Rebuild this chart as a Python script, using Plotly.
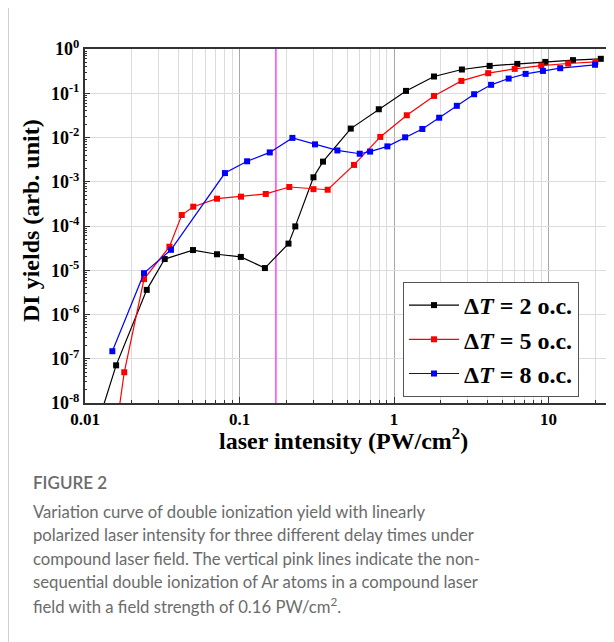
import plotly.graph_objects as go

# ---- data ----
black_x = [0.0125, 0.0159, 0.0251, 0.0328, 0.050, 0.0715, 0.102, 0.146, 0.2075, 0.2296, 0.301, 0.347,
           0.525, 0.797, 1.196, 1.815, 2.75, 4.16, 6.28, 9.53, 14.4, 21.8]
black_y = [4.9e-9, 7.1e-8, 3.6e-6, 1.79e-5, 2.86e-5, 2.3e-5, 2.0e-5, 1.12e-5, 4.0e-5, 9.8e-5, 1.26e-3, 2.85e-3,
           1.59e-2, 4.35e-2, 0.113, 0.239, 0.344, 0.416, 0.46, 0.51, 0.56, 0.60]

red_x = [0.0150, 0.01795, 0.0241, 0.0352, 0.0423, 0.0502, 0.0715, 0.1023, 0.148, 0.210, 0.301, 0.372,
         0.551, 0.815, 1.21, 1.815, 2.73, 4.07, 6.04, 8.98, 13.4, 20.1]
red_y = [5.7e-10, 4.95e-8, 6.3e-6, 3.4e-5, 1.77e-4, 2.73e-4, 4.14e-4, 4.6e-4, 5.3e-4, 7.6e-4, 6.8e-4, 6.6e-4,
         2.4e-3, 1.03e-2, 3.18e-2, 8.7e-2, 0.19, 0.284, 0.356, 0.42, 0.47, 0.51]

blue_x = [0.01503, 0.0241, 0.036, 0.0805, 0.112, 0.157, 0.22, 0.308, 0.43, 0.60, 0.70, 0.906, 1.18,
          1.525, 1.96, 2.55, 3.30, 4.25, 5.52, 7.11, 9.2, 11.9, 20.0]
blue_y = [1.48e-7, 8.6e-6, 2.9e-5, 1.57e-3, 2.9e-3, 4.6e-3, 9.8e-3, 7.0e-3, 5.1e-3, 4.3e-3, 4.8e-3, 6.3e-3,
          1.01e-2, 1.56e-2, 2.8e-2, 5.2e-2, 9.5e-2, 0.155, 0.215, 0.274, 0.32, 0.368, 0.44]

series_names = ["Δ<i>T</i> = 2 o.c.", "Δ<i>T</i> = 5 o.c.", "Δ<i>T</i> = 8 o.c."]
series_colors = ["#000000", "#ff0000", "#0000ff"]

pink_line_x = [0.172, 0.172]
pink_line_y = [1e-8, 1]

x_tickvals = [0.01, 0.1, 1, 10]
x_ticktext = ["0.01", "0.1", "1", "10"]
y_tickvals = [1e-8, 1e-7, 1e-6, 1e-5, 1e-4, 1e-3, 1e-2, 1e-1, 1]
y_ticktext = ["10<sup>-8</sup>", "10<sup>-7</sup>", "10<sup>-6</sup>", "10<sup>-5</sup>", "10<sup>-4</sup>",
              "10<sup>-3</sup>", "10<sup>-2</sup>", "10<sup>-1</sup>", "10<sup>0</sup>"]

x_title = "laser intensity (PW/cm<sup>2</sup>)"
y_title = "DI yields (arb. unit)"

caption_title = "FIGURE 2"
caption_lines = [
    "Variation curve of double ionization yield with linearly",
    "polarized laser intensity for three different delay times under",
    "compound laser field. The vertical pink lines indicate the non-",
    "sequential double ionization of Ar atoms in a compound laser",
    "field with a field strength of 0.16 PW/cm<sup>2</sup>.",
]

x_minor = [m * 10 ** e for e in (-2, -1, 0, 1) for m in range(2, 10)]
y_minor = [m * 10 ** e for e in range(-8, 0) for m in range(2, 10)]

SERIF = "Liberation Serif, Times New Roman, serif"
SANS = "Lato, Open Sans, sans-serif"

fig = go.Figure()

fig.add_trace(go.Scatter(x=pink_line_x, y=pink_line_y, mode="lines",
                         line=dict(color="#ff40ff", width=1.5), showlegend=False, hoverinfo="skip"))

for xs, ys, name, col in zip([black_x, red_x, blue_x], [black_y, red_y, blue_y], series_names, series_colors):
    fig.add_trace(go.Scatter(x=xs, y=ys, mode="lines+markers", name=name,
                             line=dict(color=col, width=1.2),
                             marker=dict(symbol="square", size=6, color=col)))

# the page body has an 8px margin, so the figure is offset by 8px
OFF = 8
W, H = 614 - OFF, 642 - OFF
L, R, T, B = 85 - OFF, 6, 49 - OFF, 239
pw, ph = W - L - R, H - T - B

def px_x(p):  # p = page x coordinate
    return (p - OFF - L) / pw

def px_y(p):  # p = page y coordinate
    return (H - B - (p - OFF)) / ph

fig.update_layout(
    width=W, height=H,
    margin=dict(l=L, r=R, t=T, b=B, autoexpand=False),
    paper_bgcolor="white", plot_bgcolor="white",
    showlegend=True,
    legend=dict(x=px_x(403), y=px_y(282), xanchor="left", yanchor="top",
                bgcolor="white", bordercolor="#555", borderwidth=1,
                font=dict(family=SERIF, size=24, color="black", weight="bold"),
                tracegroupgap=0, itemwidth=50),
    font=dict(family=SERIF, color="black"),
)

fig.update_xaxes(
    type="log", range=[-2, 1.385], automargin=False,
    tickvals=x_tickvals, ticktext=x_ticktext,
    tickfont=dict(family=SERIF, size=17, color="black", weight="bold"),
    showgrid=True, gridcolor="#a8a8a8", gridwidth=1,
    ticks="inside", ticklen=6, tickcolor="#333",
    showline=True, linecolor="#333", linewidth=2, mirror=True,
    minor=dict(tickvals=x_minor, ticks="inside", ticklen=3, tickcolor="#333",
               showgrid=True, gridcolor="#dcdcdc", gridwidth=1),
    zeroline=False,
)

fig.update_yaxes(
    type="log", range=[-8, 0], automargin=False,
    tickvals=y_tickvals, ticktext=y_ticktext,
    tickfont=dict(family=SERIF, size=18, color="black", weight="bold"),
    showgrid=True, gridcolor="#dcdcdc", gridwidth=1,
    ticks="inside", ticklen=5, tickcolor="#333",
    showline=True, linecolor="#333", linewidth=2, mirror=True,
    minor=dict(tickvals=y_minor, ticks="inside", ticklen=2, tickcolor="#333", showgrid=False),
    zeroline=False,
)

# axis titles
fig.add_annotation(text=x_title, xref="paper", yref="paper", x=px_x(343.5), y=px_y(439),
                   xanchor="center", yanchor="middle", showarrow=False,
                   font=dict(family=SERIF, size=24, color="black", weight="bold"))
fig.add_annotation(text=y_title, xref="paper", yref="paper", x=px_x(31), y=px_y(221),
                   xanchor="center", yanchor="middle", showarrow=False, textangle=-90,
                   font=dict(family=SERIF, size=24, color="black", weight="bold"))

# left page border
fig.add_shape(type="line", xref="paper", yref="paper", x0=px_x(8.5), x1=px_x(8.5), y0=px_y(0), y1=px_y(642),
              line=dict(color="#cfcfcf", width=1))

fig.add_annotation(text=caption_title, xref="paper", yref="paper", x=px_x(31), y=px_y(483),
                   xanchor="left", yanchor="middle", showarrow=False,
                   font=dict(family=SANS, size=17, color="#6b6b6b", weight=600))
for i, line in enumerate(caption_lines):
    fig.add_annotation(text=line, xref="paper", yref="paper", x=px_x(31), y=px_y(511.5 + i * 23.5),
                       xanchor="left", yanchor="middle", showarrow=False,
                       font=dict(family=SANS, size=16.7, color="#6b6b6b"))

fig.write_html("out.html")
